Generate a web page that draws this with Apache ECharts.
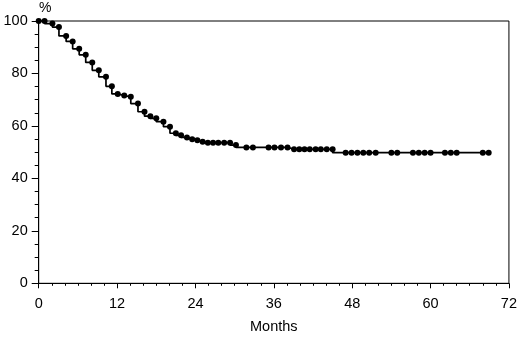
<!DOCTYPE html>
<html>
<head>
<meta charset="utf-8">
<script src="https://cdn.jsdelivr.net/npm/echarts@6/dist/echarts.min.js"></script>
<style>
html,body{margin:0;padding:0;background:#fff;}
#c{width:520px;height:338px;}
</style>
</head>
<body>
<div id="c"></div>
<script>
var months = [0, 0.9, 2.1, 3.1, 4.2, 5.2, 6.2, 7.2, 8.2, 9.2, 10.3, 11.2, 12.1, 13.1, 14.1, 15.2, 16.2, 17.1, 18.0, 19.1, 20.1, 21.0, 21.8, 22.7, 23.5, 24.3, 25.1, 25.9, 26.7, 27.5, 28.4, 29.3, 30.2, 31.8, 32.8, 35.2, 36.1, 37.1, 38.1, 39.1, 39.9, 40.7, 41.5, 42.4, 43.2, 44.1, 45.0, 47.0, 47.9, 48.8, 49.7, 50.6, 51.6, 54.0, 54.9, 57.3, 58.2, 59.1, 60.0, 62.2, 63.1, 64.0, 68.0, 68.9];
var survival = [100, 100, 99.0, 97.7, 94.3, 92.2, 89.4, 87.1, 84.2, 81.2, 78.7, 75.1, 72.2, 71.6, 71.1, 68.5, 65.4, 63.7, 62.9, 61.6, 59.7, 57.2, 56.4, 55.6, 54.9, 54.5, 54.0, 53.6, 53.6, 53.6, 53.6, 53.6, 52.7, 51.8, 51.8, 51.8, 51.8, 51.8, 51.8, 51.1, 51.1, 51.1, 51.1, 51.1, 51.1, 51.1, 51.1, 49.8, 49.8, 49.8, 49.8, 49.8, 49.8, 49.8, 49.8, 49.8, 49.8, 49.8, 49.8, 49.8, 49.8, 49.8, 49.8, 49.8];
var xTicks = [0, 12, 24, 36, 48, 60, 72];
var yTicks = [0, 20, 40, 60, 80, 100];
var xTitle = 'Months';
var yTitle = '%';

var data = months.map(function (m, i) { return [m, survival[i]]; });
var font = 'Liberation Sans, Arial, sans-serif';

var chart = echarts.init(document.getElementById('c'), null, {renderer: 'canvas'});
chart.setOption({
  animation: false,
  backgroundColor: '#fff',
  grid: {left: 38.7, right: 9, top: 21, bottom: 54.7, show: true, borderColor: '#000', borderWidth: 1, backgroundColor: 'transparent'},
  graphic: [
    {type: 'text', left: 39, top: 1, style: {text: yTitle, font: '14px ' + font, fill: '#000'}},
    {type: 'text', left: 250, top: 319, style: {text: xTitle, font: '14.5px ' + font, fill: '#000'}}
  ],
  xAxis: {
    type: 'value', min: xTicks[0], max: xTicks[xTicks.length - 1], interval: 12,
    axisLine: {show: true, lineStyle: {color: '#000', width: 1}},
    axisTick: {show: true, inside: false, length: 5, lineStyle: {color: '#000'}},
    minorTick: {show: true, splitNumber: 6, length: 2.5, lineStyle: {color: '#000'}},
    splitLine: {show: false},
    axisLabel: {color: '#000', fontSize: 14.5, fontFamily: font, margin: 13}
  },
  yAxis: {
    type: 'value', min: yTicks[0], max: yTicks[yTicks.length - 1], interval: 20,
    axisLine: {show: true, lineStyle: {color: '#000', width: 1}},
    axisTick: {show: true, inside: false, length: 7, lineStyle: {color: '#000'}},
    minorTick: {show: true, splitNumber: 4, length: 4, lineStyle: {color: '#000'}},
    splitLine: {show: false},
    axisLabel: {color: '#000', fontSize: 14.5, fontFamily: font, margin: 11}
  },
  series: [{
    type: 'line',
    step: 'start',
    data: data,
    clip: false,
    symbol: 'circle',
    symbolSize: 6,
    showAllSymbol: true,
    itemStyle: {color: '#000'},
    lineStyle: {color: '#000', width: 1.7}
  }]
});
</script>
</body>
</html>
